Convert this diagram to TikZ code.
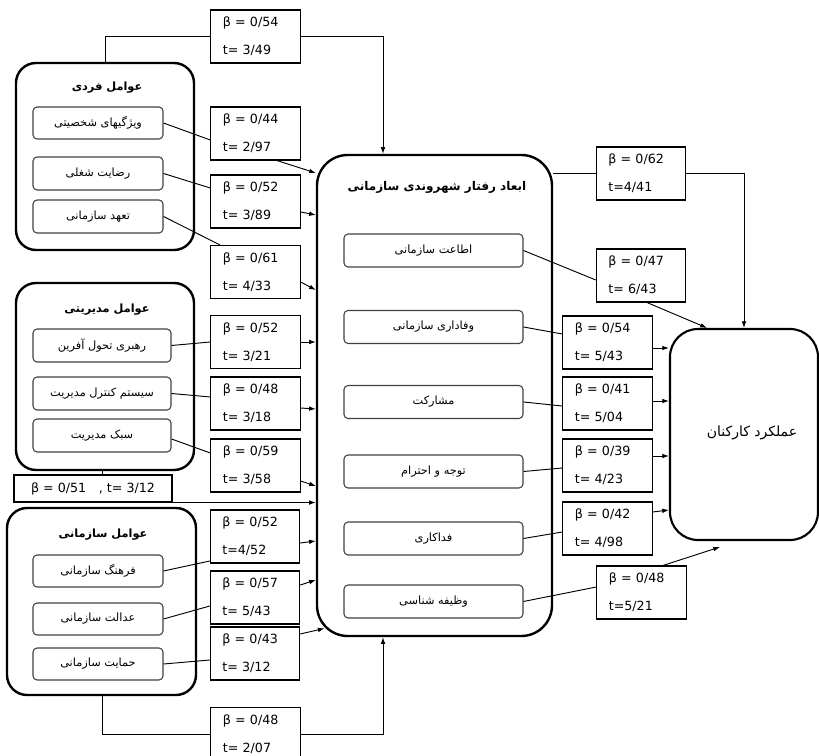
\documentclass[tikz,border=0pt]{standalone}
\usepackage{fontspec}
\setmainfont{DejaVu Sans}
\newfontfamily\fafont[Script=Arabic]{DejaVu Sans}
\TeXXeTstate=1
\usetikzlibrary{arrows.meta}
\newcommand{\fa}[1]{{\fafont\beginR #1\endR}}
\tikzset{
  group/.style={draw, line width=1.8pt, rounded corners=15pt},
  item/.style={draw=black!75, line width=0.8pt, rounded corners=3pt, font=\fontsize{8.5}{10}\selectfont},
  coef/.style={draw, line width=0.8pt, fill=white, text width=49pt, inner xsep=9pt,
    minimum height=39.75pt, align=left, font=\fontsize{9.5}{21}\selectfont},
  heading/.style={font=\bfseries\fontsize{8.5}{10}\selectfont},
  link/.style={line width=0.7pt},
}
\begin{document}
\begin{tikzpicture}[x=0.75pt,y=-0.75pt,>={Latex[length=5pt,width=3.5pt]}]
        \useasboundingbox (0,0) rectangle (819,756);
        % left groups
        \node[group, minimum width=133.5pt, minimum height=140.25pt] (g1) at (105,156.5) {};
        \node[heading] (g1t) at (107,88) {\fa{عوامل فردی}};
        \node[item, minimum width=97.5pt, minimum height=24pt] (i1) at (98,123) {\fa{ویژگیهای شخصیتی}};
        \node[item, minimum width=97.5pt, minimum height=24.75pt] (i2) at (98,173.5) {\fa{رضایت شغلی}};
        \node[item, minimum width=97.5pt, minimum height=24.75pt] (i3) at (98,216.5) {\fa{تعهد سازمانی}};
        \node[group, minimum width=133.5pt, minimum height=140.25pt] (g2) at (105,376.5) {};
        \node[heading] (g2t) at (107,310) {\fa{عوامل مدیریتی}};
        \node[item, minimum width=103.5pt, minimum height=24.75pt] (j1) at (102,345.5) {\fa{رهبری تحول آفرین}};
        \node[item, minimum width=103.5pt, minimum height=24.75pt] (j2) at (102,393.5) {\fa{سیستم کنترل مدیریت}};
        \node[item, minimum width=103.5pt, minimum height=24.75pt] (j3) at (102,435.5) {\fa{سبک مدیریت}};
        \node[group, minimum width=141.75pt, minimum height=140.25pt] (g3) at (101.5,601.5) {};
        \node[heading] (g3t) at (103,535) {\fa{عوامل سازمانی}};
        \node[item, minimum width=97.5pt, minimum height=24pt] (k1) at (98,571) {\fa{فرهنگ سازمانی}};
        \node[item, minimum width=97.5pt, minimum height=24pt] (k2) at (98,619) {\fa{عدالت سازمانی}};
        \node[item, minimum width=97.5pt, minimum height=24pt] (k3) at (98,664) {\fa{حمایت سازمانی}};
        % centre
        \node[group, rounded corners=23pt, minimum width=176.25pt, minimum height=360.75pt] (c) at (434.5,395.5) {};
        \node[font=\bfseries\fontsize{9}{11}\selectfont] (ct) at (437,187) {\fa{ابعاد رفتار شهروندی سازمانی}};
        \node[item, minimum width=134.25pt, minimum height=24.75pt] (o1) at (433.5,250.5) {\fa{اطاعت سازمانی}};
        \node[item, minimum width=134.25pt, minimum height=24.75pt] (o2) at (433.5,327) {\fa{وفاداری سازمانی}};
        \node[item, minimum width=134.25pt, minimum height=24.75pt] (o3) at (433.5,402) {\fa{مشارکت}};
        \node[item, minimum width=134.25pt, minimum height=24.75pt] (o4) at (433.5,471.5) {\fa{توجه و احترام}};
        \node[item, minimum width=134.25pt, minimum height=24.75pt] (o5) at (433.5,538.5) {\fa{فداکاری}};
        \node[item, minimum width=134.25pt, minimum height=24.75pt] (o6) at (433.5,601.5) {\fa{وظیفه شناسی}};
        % right
        \node[group, line width=1.6pt, rounded corners=21pt, minimum width=111pt, minimum height=158.25pt] (r) at (744,434.5) {};
        \node[font=\fontsize{10.5}{12}\selectfont] (rt) at (752,433) {\fa{عملکرد کارکنان}};
        % coefficients
        \node[coef] (b1) at (255.5,36.5) {β = 0/54\\t= 3/49};
        \node[coef] (b2) at (255.5,133.5) {β = 0/44\\t= 2/97};
        \node[coef] (b3) at (255.5,201.5) {β = 0/52\\t= 3/89};
        \node[coef] (b4) at (255.5,272) {β = 0/61\\t= 4/33};
        \node[coef] (b5) at (255.5,342) {β = 0/52\\t= 3/21};
        \node[coef] (b6) at (255.5,403.5) {β = 0/48\\t= 3/18};
        \node[coef] (b7) at (255.5,465.5) {β = 0/59\\t= 3/58};
        \node[draw, line width=0.8pt, minimum width=118.5pt, minimum height=20.25pt,
          font=\fontsize{9.5}{11}\selectfont] (b8) at (93,488.5) {β = 0/51\quad , t= 3/12};
        \node[coef] (b9) at (255,536.5) {β = 0/52\\t=4/52};
        \node[coef] (b10) at (255,597.5) {β = 0/57\\t= 5/43};
        \node[coef] (b11) at (255,653.5) {β = 0/43\\t= 3/12};
        \node[coef] (b12) at (255.5,734) {β = 0/48\\t= 2/07};
        \node[coef] (b13) at (641,173.5) {β = 0/62\\t=4/41};
        \node[coef] (b14) at (641,275.5) {β = 0/47\\t= 6/43};
        \node[coef] (b15) at (607.5,342.5) {β = 0/54\\t= 5/43};
        \node[coef] (b16) at (607.5,403.5) {β = 0/41\\t= 5/04};
        \node[coef] (b17) at (607.5,465.5) {β = 0/39\\t= 4/23};
        \node[coef] (b18) at (607.5,528.5) {β = 0/42\\t= 4/98};
        \node[coef] (b19) at (641.5,592.5) {β = 0/48\\t=5/21};
        \coordinate (rtip) at (720,547);
        % left links
        \draw[link] (g1.north) |- (b1.west);
        \draw[link,->] (b1.east) -| (c.north -| 383,0);
        \draw[link] (i1.east) -- (b2.west |- 0,140);
        \draw[link,->] (b2.south -| 277,0) -- (c.west |- 0,173);
        \draw[link] (i2.east) -- (b3.west |- 0,188);
        \draw[link,->] (b3.east |- 0,212) -- (c.west |- 0,215);
        \draw[link] (i3.east) -- (b4.north -| 220,0);
        \draw[link,->] (b4.east |- 0,282) -- (c.west |- 0,290);
        \draw[link] (j1.east) -- (b5.west);
        \draw[link,->] (b5.east) -- (b5.east -| c.west);
        \draw[link] (j2.east) -- (b6.west |- 0,397);
        \draw[link,->] (b6.east |- 0,408) -- (c.west |- 0,409);
        \draw[link] (j3.east |- 0,439) -- (b7.west |- 0,453);
        \draw[link,->] (b7.east |- 0,481) -- (c.west |- 0,486);
        \draw[link] (g2.south -| 102,0) -- (b8.north -| 102,0);
        \draw[link,->] (b8.south east) -- (b8.south east -| c.west);
        \draw[link] (k1.east) -- (b9.west |- 0,561);
        \draw[link,->] (b9.east |- 0,543) -- (c.west |- 0,541);
        \draw[link] (k2.east) -- (b10.west |- 0,606);
        \draw[link,->] (b10.east |- 0,585) -- (c.west |- 0,580);
        \draw[link] (k3.east) -- (b11.west |- 0,660);
        \draw[link,->] (b11.east |- 0,634) -- ([shift={(6.6pt,6.6pt)}]c.south west);
        \draw[link] (g3.south -| 102,0) |- (b12.west);
        \draw[link,->] (b12.east) -| (c.south -| 383,0);
        % right links
        \draw[link] (c.east |- b13.west) -- (b13.west);
        \draw[link,->] (b13.east) -| (r.north);
        \draw[link] (o1.east) -- (b14.west |- 0,280);
        \draw[link,->] (b14.south -| 647,0) -- (r.north -| 707,0);
        \draw[link] (o2.east) -- (b15.west |- 0,334);
        \draw[link,->] (b15.east |- 0,348) -- (r.west |- 0,348);
        \draw[link] (o3.east) -- (b16.west |- 0,406);
        \draw[link,->] (b16.east |- 0,401) -- (r.west |- 0,401);
        \draw[link] (o4.east) -- (b17.west |- 0,468);
        \draw[link,->] (b17.east |- 0,456) -- (r.west |- 0,456);
        \draw[link] (o5.east) -- (b18.west |- 0,532);
        \draw[link,->] (b18.east |- 0,512) -- (r.west |- 0,510);
        \draw[link] (o6.east) -- (b19.west |- 0,587);
        \draw[link,->] (b19.north -| 663,0) -- (rtip);
      \end{tikzpicture}
\end{document}
